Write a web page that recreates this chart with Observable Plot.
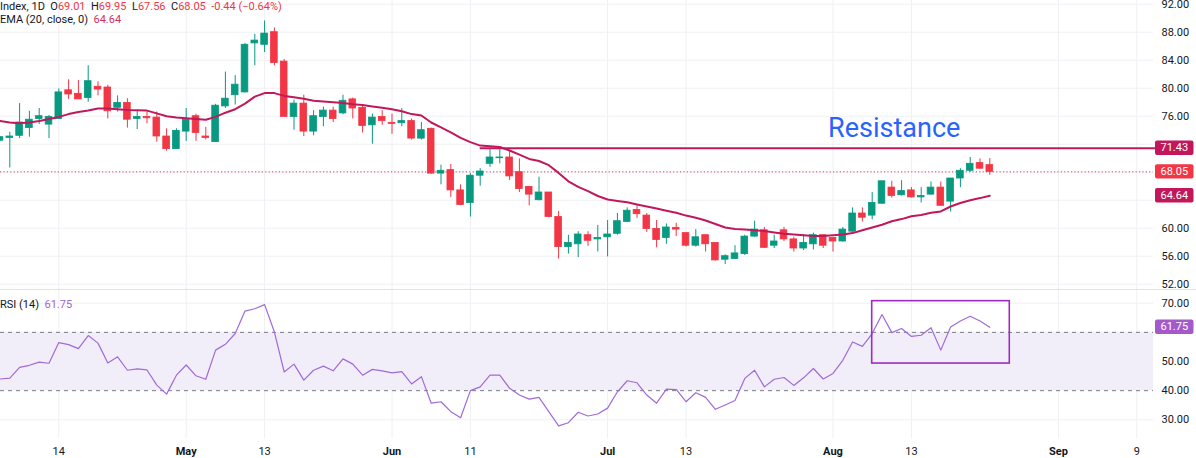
<!DOCTYPE html>
<html><head><meta charset="utf-8">
<script src="https://cdn.jsdelivr.net/npm/d3@7"></script>
<script src="https://cdn.jsdelivr.net/npm/@observablehq/plot@0.6"></script>
<style>
body{margin:0;background:#fff;font-family:Roboto,sans-serif;}
#wrap{position:relative;width:1196px;height:458px;overflow:hidden;background:#fff;}
#wrap svg{display:block;}
.leg{position:absolute;left:0;font-size:11px;color:#131722;white-space:pre;line-height:11px;font-family:Roboto,sans-serif;}
.dn{color:#f23645}
</style></head><body><div id="wrap"></div>
<script>
// ---- data (daily bars, index 0 = leftmost visible bar) ----
const opens  = [72.5,72.9,73.2,74.3,75.6,74.8,75.6,79.7,79.2,78.6,80.2,80.1,77.2,77.9,75.6,75.9,75.8,73.1,71.3,73.8,
                76.0,73.1,72.3,77.4,79.0,79.4,86.4,86.2,88.0,83.8,75.9,77.8,73.8,75.9,76.8,76.4,78.4,77.2,74.7,75.9,
                75.05,75.0,75.3,72.8,74.2,67.8,68.3,65.4,63.6,67.5,69.2,70.0,70.1,68.0,65.9,64.0,65.1,61.6,57.3,57.7,
                59.0,58.4,58.7,59.2,60.9,62.6,61.8,59.9,58.6,60.05,59.3,57.5,59.0,57.9,55.5,55.6,56.3,58.8,59.7,57.5,
                59.7,58.4,57.1,57.7,59.0,58.6,58.1,59.5,62.1,61.8,63.5,65.8,64.7,65.4,64.4,64.8,65.8,63.8,67.1,68.2,
                69.3,69.01];
const highs  = [73.1,73.7,77.8,76.7,77.1,76.1,79.9,81.2,81.1,83.2,80.9,80.4,78.9,78.5,76.8,76.6,76.6,74.2,74.2,77.1,
                76.3,74.4,77.7,82.3,81.8,86.4,87.7,89.6,88.6,84.1,78.3,79.0,76.8,77.3,77.3,79.0,78.6,77.5,76.3,76.8,
                76.3,77.1,75.6,75.1,74.3,69.0,69.1,66.2,67.8,68.5,71.3,71.3,71.1,69.9,65.9,67.3,65.1,62.4,59.0,59.5,
                59.5,60.4,61.1,62.1,62.9,63.2,62.1,61.1,60.6,60.7,59.3,59.8,59.0,57.9,56.2,57.5,59.0,61.0,60.1,59.0,
                60.1,58.7,59.1,59.3,59.0,58.7,60.1,62.9,62.9,65.1,66.7,66.7,66.8,65.8,65.8,66.6,66.6,67.1,68.5,70.1,
                69.9,69.95];
const lows   = [72.4,68.6,72.8,73.0,74.8,72.8,75.6,78.4,78.4,78.0,78.9,75.6,76.6,74.3,74.1,74.9,72.3,71.0,71.3,72.4,
                72.4,72.6,72.3,77.1,77.6,79.3,83.2,85.1,83.2,75.9,74.0,73.1,73.2,74.5,75.1,76.2,75.6,73.6,72.0,74.7,
                73.4,74.5,72.6,72.6,67.7,66.2,64.4,63.2,61.6,66.0,68.7,69.2,66.8,65.1,63.2,63.9,61.5,55.6,56.3,55.8,
                57.4,56.6,55.9,59.0,60.9,61.4,59.4,57.2,57.7,58.8,57.3,57.3,56.6,55.3,54.8,55.6,56.1,58.7,57.1,57.1,
                58.1,56.6,56.8,56.9,57.1,56.6,58.0,59.4,60.9,61.2,63.4,64.3,64.6,64.3,63.6,64.7,63.2,62.3,65.8,68.0,
                68.4,67.56];
const closes = [73.0,73.1,75.1,75.5,76.0,75.9,79.4,79.1,78.4,81.0,79.8,76.7,77.9,75.5,75.9,75.7,73.1,71.3,73.9,75.5,
                73.6,72.9,77.5,78.5,80.5,86.2,86.8,87.8,83.6,75.9,77.8,73.8,76.0,76.8,75.6,78.2,77.1,74.6,75.8,75.3,
                74.9,75.3,72.8,74.0,67.8,68.2,65.4,63.3,67.5,68.1,70.1,70.1,67.4,65.6,64.8,65.1,61.6,57.3,57.9,59.1,
                58.2,58.6,59.1,61.0,62.5,62.0,59.9,58.3,60.1,59.8,57.5,58.7,57.7,55.4,56.0,56.4,58.8,59.8,57.2,58.1,
                58.4,57.1,57.9,59.0,57.5,58.1,59.8,62.1,61.5,63.6,66.7,64.6,65.3,64.4,64.6,65.8,63.2,67.1,68.2,69.2,
                68.5,68.05];
const ema20  = [75.3,75.1,75.0,75.1,75.3,75.6,75.9,76.3,76.6,76.8,77.1,77.1,77.0,76.9,76.85,76.8,76.4,76.0,75.8,75.7,
                75.6,75.5,75.9,76.5,77.0,77.8,78.8,79.3,79.3,78.9,78.7,78.5,78.2,78.1,78.0,77.9,77.7,77.6,77.4,77.2,
                77.0,76.7,76.3,76.1,75.1,74.4,73.7,72.9,72.3,71.8,71.7,71.6,71.1,70.5,69.9,69.6,69.0,67.9,66.7,65.9,
                65.3,64.6,64.1,63.9,63.7,63.4,63.1,62.8,62.5,62.2,61.8,61.5,61.1,60.6,60.1,59.9,59.8,59.7,59.6,59.4,
                59.2,59.1,59.0,58.9,58.9,59.0,59.1,59.3,59.7,60.1,60.5,61.0,61.3,61.7,61.9,62.2,62.4,63.1,63.6,64.0,
                64.3,64.64];
const rsi14  = [44.0,44.3,48.0,48.7,49.8,49.4,56.5,55.8,54.4,58.9,56.3,49.5,51.6,47.0,47.5,47.1,41.9,38.8,45.3,48.8,
                45.1,43.9,53.9,55.9,59.6,67.3,68.1,69.5,60.1,46.4,49.1,43.6,47.0,48.4,46.8,50.9,49.1,45.3,47.3,46.8,
                46.1,46.5,42.3,44.8,35.7,36.2,32.8,30.7,40.0,41.3,45.3,45.3,40.8,38.5,37.1,37.7,32.8,27.9,29.0,32.6,
                31.3,32.0,34.0,39.6,43.4,42.7,38.5,35.7,40.5,40.4,36.2,39.3,37.7,33.6,35.1,36.6,44.2,47.0,41.3,43.9,
                44.5,41.8,44.4,47.6,44.0,45.9,50.4,56.7,55.2,59.6,66.1,59.9,61.3,58.6,59.0,61.6,53.9,61.8,63.9,65.5,
                63.9,61.75];
const tickBars   = [6, 19, 27, 40, 48, 62, 70, 85, 93, 108, 116];
const tickLabels = ["14", "May", "13", "Jun", "11", "Jul", "13", "Aug", "13", "Sep", "9"];
const monthNames = ["May", "Jun", "Jul", "Aug", "Sep"];
const priceTicks = [52, 56, 60, 64, 68, 72, 76, 80, 84, 88, 92];
const rsiTicks   = [30, 40, 50, 60, 70];
const rsiBands   = [40, 60];
const resistanceLevel = 71.43;
const resistanceStartBar = 49;
const rsiBox = {barFrom: 89.0, barTo: 103.04, low: 49.3, high: 70.7};
const legendInfo = {name: "Index, 1D", change: "-0.44 (-0.64%)"};

// ---- layout ----
const W = 1196;
const xDomain = [0.051, 117.704];
const UP = "#089981", DN = "#f23645", EMA_C = "#c2185b", GRID = "#eef0f4";
const font = "Roboto, sans-serif";

const n = closes.length;
const bars = d3.range(n).map(i => ({i, o: opens[i], h: highs[i], l: lows[i], c: closes[i], e: ema20[i], r: rsi14[i]}));
const col = d => d.c >= d.o ? UP : DN;
const last = bars[n - 1];
const ticks = tickBars.map((b, k) => ({b, t: tickLabels[k], m: monthNames.includes(tickLabels[k])}));

// axis labels hidden behind the right-hand value badges are left out (grid lines stay)
const priceBadges = [resistanceLevel, last.c, last.e];
const priceLabelTicks = priceTicks.filter(t => priceBadges.every(b => Math.abs(b - t) * 7 > 9));
const rsiLabelTicks = rsiTicks.filter(t => Math.abs(last.r - t) * 2.93 > 9);

const price = Plot.plot({
  width: W, height: 289,
  marginLeft: 0, marginRight: 43, marginTop: 3.7, marginBottom: 5.3,
  x: {domain: xDomain, axis: null},
  y: {domain: [52, 92], axis: null},
  color: {type: "identity"},
  style: {fontFamily: font, fontSize: "11px", background: "transparent", overflow: "visible"},
  marks: [
    Plot.gridY(priceTicks, {stroke: GRID, strokeOpacity: 1}),
    Plot.ruleX(tickBars, {stroke: GRID, insetTop: -4, insetBottom: -6}),
    Plot.ruleY([last.c], {stroke: DN, strokeDasharray: "1.2,2.2", strokeWidth: 1}),
    Plot.ruleY([{y: resistanceLevel, x1: resistanceStartBar, x2: xDomain[1] + 0.2}], {y: "y", x1: "x1", x2: "x2", stroke: EMA_C, strokeWidth: 2}),
    Plot.ruleX(bars, {x: "i", y1: "l", y2: "h", stroke: col, strokeWidth: 1, clip: true}),
    Plot.rect(bars, {x1: d => d.i - 0.34, x2: d => d.i + 0.34, y1: "o", y2: "c", fill: col, stroke: col, strokeWidth: 0.8, clip: true}),
    Plot.line(bars, {x: "i", y: "e", stroke: EMA_C, strokeWidth: 2, clip: true}),
    Plot.text([{x: 84.5, y: 73.1, t: "Resistance"}], {x: "x", y: "y", text: "t", textAnchor: "start", lineAnchor: "bottom", fontSize: 27, fill: "#2962ff", fontFamily: font}),
    Plot.axisY(priceLabelTicks, {anchor: "right", tickSize: 0, tickPadding: 8, tickFormat: d3.format(".2f"), fontSize: 11, fill: "#131722", label: null})
  ]
});

const rsi = Plot.plot({
  width: W, height: 169,
  marginLeft: 0, marginRight: 43, marginTop: 13.7, marginBottom: 38.7,
  x: {domain: xDomain, axis: null},
  y: {domain: [30, 70], axis: null},
  color: {type: "identity"},
  style: {fontFamily: font, fontSize: "11px", background: "transparent", overflow: "visible"},
  marks: [
    Plot.rect([{x1: xDomain[0] - 1, x2: xDomain[1], y1: rsiBands[0], y2: rsiBands[1]}], {x1: "x1", x2: "x2", y1: "y1", y2: "y2", fill: "#7e57c2", fillOpacity: 0.1}),
    Plot.gridY([30, 50, 70], {stroke: GRID, strokeOpacity: 1}),
    Plot.ruleX(tickBars, {stroke: GRID, insetTop: -14, insetBottom: -19}),
    Plot.ruleY(rsiBands, {stroke: "#787b86", strokeDasharray: "4,4", strokeWidth: 1}),
    Plot.line(bars, {x: "i", y: "r", stroke: "#a06ad8", strokeWidth: 1.2}),
    Plot.rect([rsiBox], {x1: "barFrom", x2: "barTo", y1: "low", y2: "high", fill: "none", stroke: "#a02bc0", strokeWidth: 1.6}),
    Plot.axisY(rsiLabelTicks, {anchor: "right", tickSize: 0, tickPadding: 8, tickFormat: d3.format(".2f"), fontSize: 11, fill: "#131722", label: null}),
    Plot.text(ticks.filter(d => !d.m), {x: "b", text: "t", frameAnchor: "bottom", dy: 35, fontSize: 11, fill: "#131722", fontFamily: font}),
    Plot.text(ticks.filter(d => d.m), {x: "b", text: "t", frameAnchor: "bottom", dy: 35, fontSize: 11, fontWeight: "bold", fill: "#131722", fontFamily: font})
  ]
});

// badges on the right price scale, positioned through the chart scales
function badge(svg, yPix, label, fill) {
  const g = d3.select(svg).append("g");
  g.append("rect").attr("x", 1155).attr("y", yPix - 7.2).attr("width", 38.5).attr("height", 14.4).attr("rx", 2).attr("fill", fill);
  g.append("text").attr("x", 1174.3).attr("y", yPix).attr("dy", "0.34em").attr("text-anchor", "middle")
    .attr("fill", "#fff").attr("font-size", 11).attr("font-family", font).text(label);
}
const py = price.scale("y");
badge(price, py.apply(resistanceLevel), resistanceLevel.toFixed(2), EMA_C);
badge(price, py.apply(last.c), last.c.toFixed(2), DN);
badge(price, py.apply(last.e), last.e.toFixed(2), EMA_C);
const ry = rsi.scale("y");
badge(rsi, ry.apply(last.r), last.r.toFixed(2), "#a45bc9");
// pane separator
d3.select(rsi).append("line").attr("x1", 0).attr("x2", W).attr("y1", 0.5).attr("y2", 0.5).attr("stroke", "#e0e3eb");

const wrap = document.getElementById("wrap");
wrap.appendChild(price);
wrap.appendChild(rsi);

// legends
const fmt = d3.format(".2f");
const l1 = document.createElement("div");
l1.className = "leg"; l1.style.top = "0.5px";
l1.innerHTML = `${legendInfo.name}  O<span class="dn">${fmt(last.o)}</span>  H<span class="dn">${fmt(last.h)}</span>  L<span class="dn">${fmt(last.l)}</span>  C<span class="dn">${fmt(last.c)}</span>  <span class="dn">${legendInfo.change.replace(/-/g, "\u2212").replace(/^\u2212/, "-")}</span>`;
wrap.appendChild(l1);
const l2 = document.createElement("div");
l2.className = "leg"; l2.style.top = "14px";
l2.innerHTML = `EMA (20, close, 0)  <span style="color:#d0306a">${fmt(last.e)}</span>`;
wrap.appendChild(l2);
const l3 = document.createElement("div");
l3.className = "leg"; l3.style.top = "298.5px";
l3.innerHTML = `RSI (14)  <span style="color:#a264d6">${fmt(last.r)}</span>`;
wrap.appendChild(l3);
</script></body></html>
